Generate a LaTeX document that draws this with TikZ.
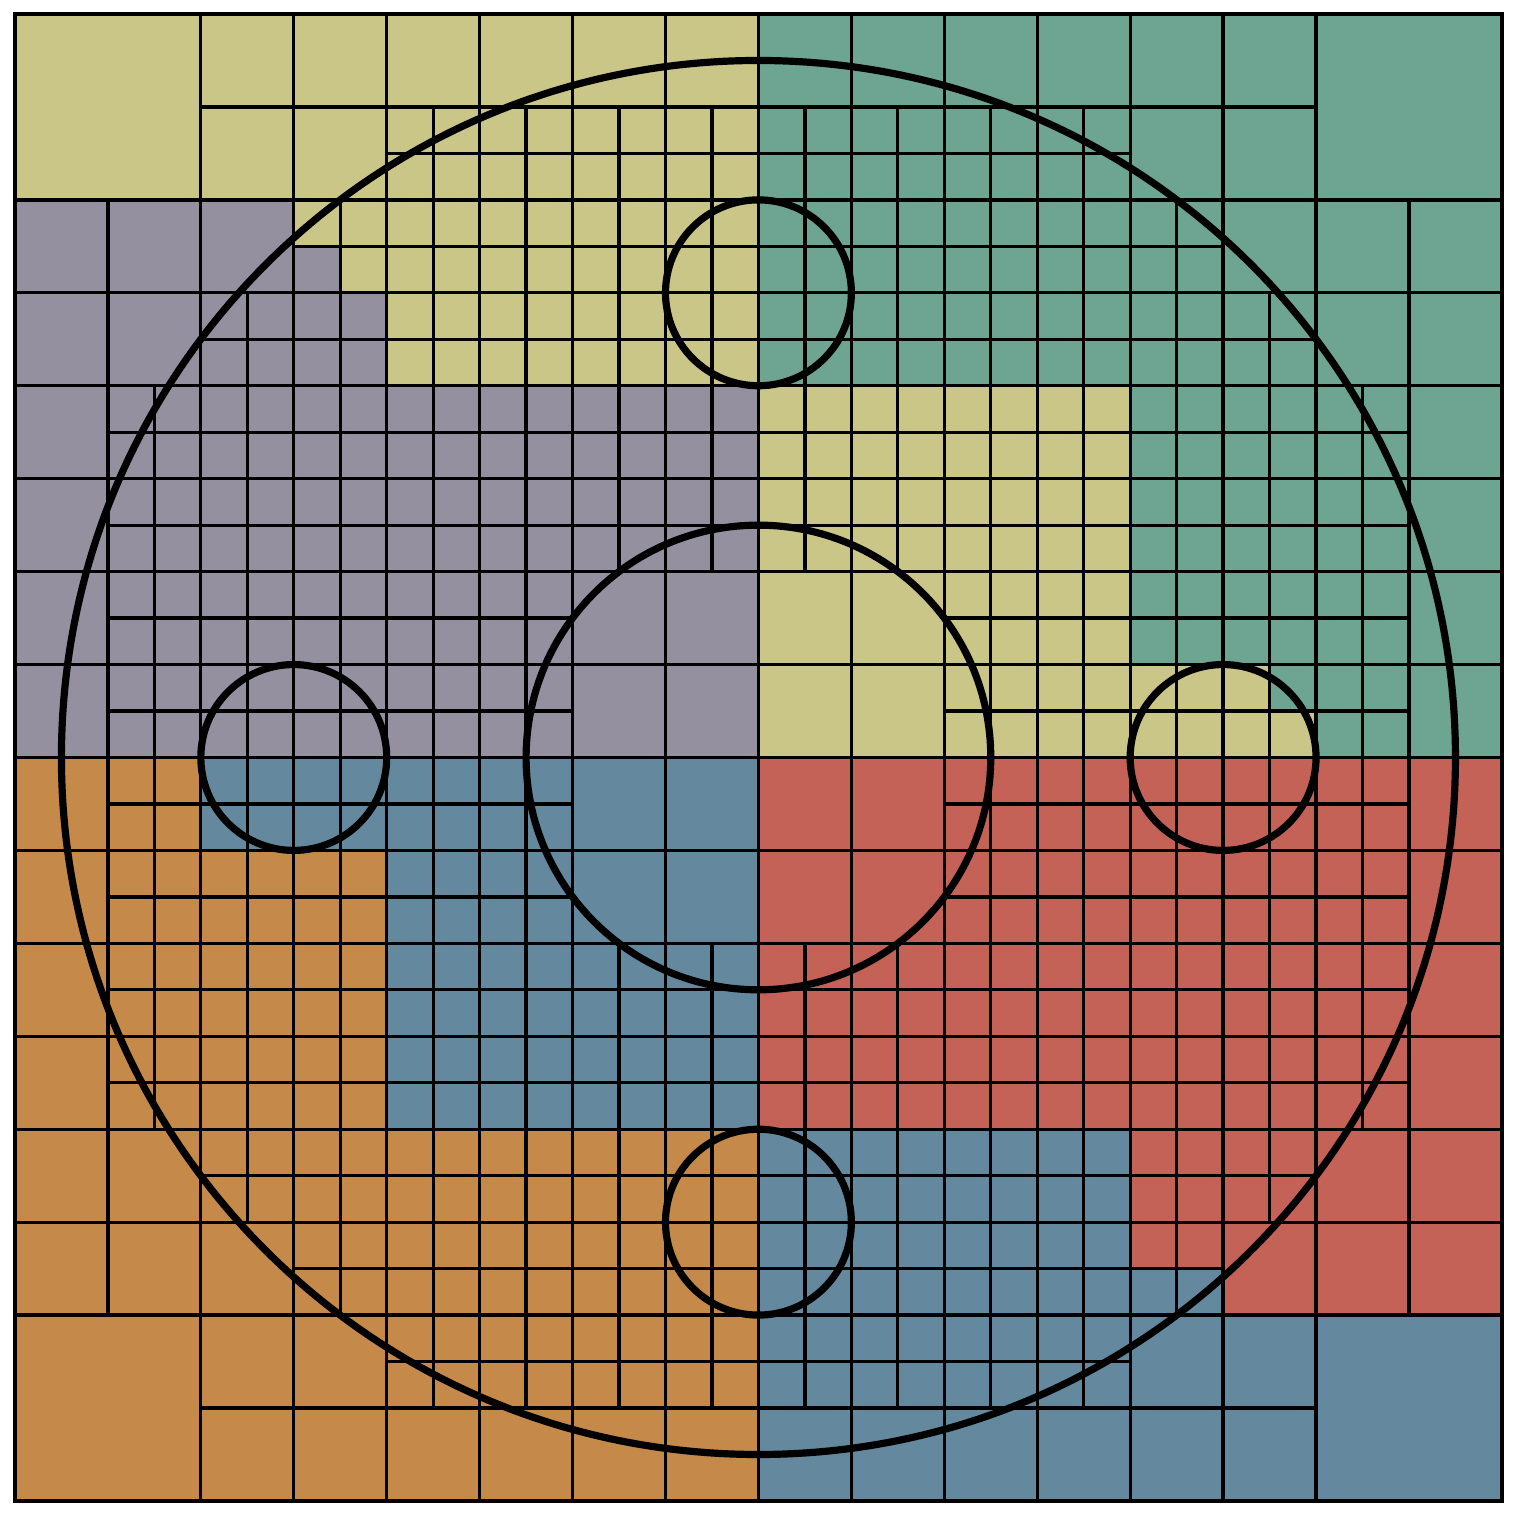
\documentclass[tikz,border=0pt]{standalone}
\usepackage{tikz}
\definecolor{partyellow}{RGB}{202,198,136}
\definecolor{partgreen}{RGB}{110,164,146}
\definecolor{partpurple}{RGB}{149,144,160}
\definecolor{partorange}{RGB}{197,138,74}
\definecolor{partblue}{RGB}{100,136,158}
\definecolor{partred}{RGB}{196,98,87}

\begin{document}
\begin{tikzpicture}[
  meshline/.style={black, line width=1pt},
  holeline/.style={black, line width=2.2pt}]
  \useasboundingbox (-0.161,-0.194) rectangle (16.183,16.151);
  % Partitions (filled first)
  \fill[partyellow] (0,14) -- (3,14) -- (3,13.5) -- (3.5,13.5) -- (3.5,13) -- (4,13) -- (4,12)
    -- (8,12) -- (8,16) -- (0,16) -- cycle;
  \fill[partpurple] (0,8) -- (8,8) -- (8,12) -- (4,12) -- (4,13) -- (3.5,13) -- (3.5,13.5)
    -- (3,13.5) -- (3,14) -- (0,14) -- cycle;
  \fill[partgreen] (8,12) -- (12,12) -- (12,9) -- (13.5,9) -- (13.5,8.5) -- (14,8.5) -- (14,8)
    -- (16,8) -- (16,16) -- (8,16) -- cycle;
  \fill[partyellow] (8,8) -- (14,8) -- (14,8.5) -- (13.5,8.5) -- (13.5,9) -- (12,9) -- (12,12)
    -- (8,12) -- cycle;
  \fill[partorange] (0,0) -- (8,0) -- (8,4) -- (4,4) -- (4,7) -- (2,7) -- (2,8) -- (0,8) -- cycle;
  \fill[partblue] (4,4) -- (8,4) -- (8,8) -- (2,8) -- (2,7) -- (4,7) -- cycle;
  \fill[partred] (8,4) -- (12,4) -- (12,2.5) -- (13,2.5) -- (13,2) -- (16,2) -- (16,8) -- (8,8) -- cycle;
  \fill[partblue] (8,0) -- (16,0) -- (16,2) -- (13,2) -- (13,2.5) -- (12,2.5) -- (12,4) -- (8,4) -- cycle;
  % Quadtree cells: refined near the circles, coarse in the corners
  \foreach \i in {0,...,15}{
    \foreach \j in {0,...,15}{
      \pgfmathtruncatemacro{\dx}{min(\i,15-\i)}
      \pgfmathtruncatemacro{\dy}{min(\j,15-\j)}
      \pgfmathtruncatemacro{\core}{and(and(\i>5,\i<10),and(\j>5,\j<10))}
      \pgfmathtruncatemacro{\corner}{and(\dx<2,\dy<2)}
      \pgfmathtruncatemacro{\fine}{and(and(\dx+\dy>4,min(\dx,\dy)>0),\core==0)}
      \ifnum\corner=0
        \ifnum\fine=1
          \draw[meshline] (\i,\j) grid[step=0.5] (\i+1,\j+1);
        \else
          \draw[meshline] (\i,\j) rectangle (\i+1,\j+1);
        \fi
      \fi
    }
  }
  % Corner cells
  \foreach \cx/\cy in {0/0,14/0,0/14,14/14}
    \draw[meshline] (\cx,\cy) rectangle (\cx+2,\cy+2);
  \draw[meshline, line width=1.2pt] (0,0) rectangle (16,16);
  % Circles
  \draw[holeline] (8,8) circle (7.5);
  \draw[holeline] (8,8) circle (2.5);
  \foreach \hx/\hy in {8/13,3/8,13/8,8/3}
    \draw[holeline] (\hx,\hy) circle (1);
\end{tikzpicture}
\end{document}
